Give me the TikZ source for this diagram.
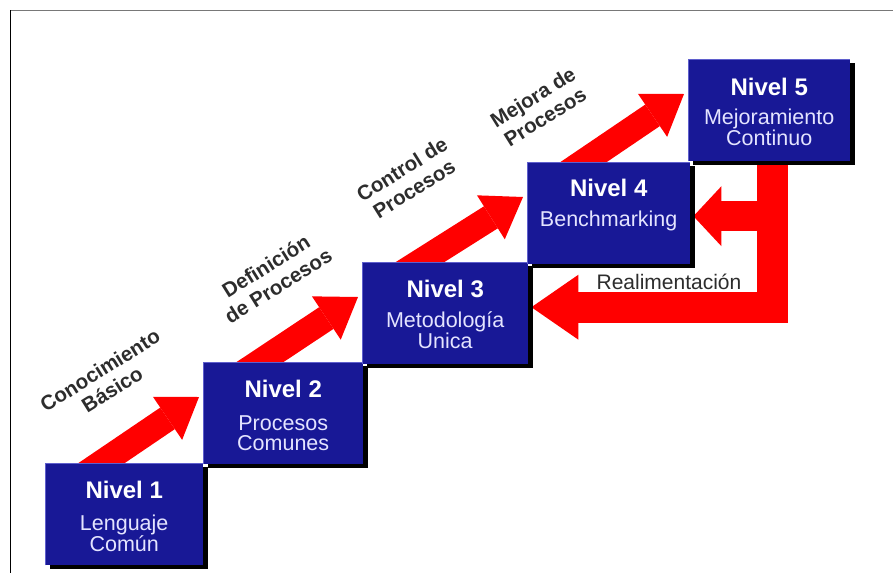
\documentclass[tikz,border=0pt]{standalone}
\usepackage{fontspec}
\setmainfont{Liberation Sans}
\usetikzlibrary{arrows.meta,calc,shadows}
\definecolor{levelblue}{RGB}{24,24,150}
\definecolor{edgeblue}{RGB}{95,95,205}
\definecolor{stepred}{RGB}{255,0,0}
\definecolor{captiongray}{RGB}{45,45,45}
\definecolor{sublilac}{RGB}{228,228,255}
\definecolor{framegray}{RGB}{120,120,120}
\begin{document}
\begin{tikzpicture}[x=1pt,y=-1pt,
  levelbox/.style={anchor=north west, inner sep=0pt, minimum height=102pt,
    fill=levelblue,
    drop shadow={shadow xshift=5pt,shadow yshift=-4pt,opacity=1,fill=black}},
  boxedge/.style={edgeblue, line width=1.2pt},
  levelname/.style={text=white, font=\bfseries\fontsize{24}{26}\selectfont, inner sep=0pt},
  leveltext/.style={text=sublilac, font=\fontsize{21.5}{20}\selectfont, align=center, inner sep=0pt},
  steparrow/.style={draw=stepred, line width=26pt,
    -{Triangle[length=38pt,width=52pt,line width=0pt]}},
  backarrow/.style={draw=stepred, line width=31pt, line join=miter,
    -{Triangle[length=47pt,width=65pt,line width=0pt]}},
  brancharrow/.style={draw=stepred, line width=30pt,
    -{Triangle[length=28pt,width=60pt,line width=0pt]}},
  stagecaption/.style={text=captiongray, font=\bfseries\fontsize{20.5}{23}\selectfont,
    align=center, rotate=32, inner sep=0pt},
  feedcaption/.style={text=captiongray, font=\fontsize{21}{24}\selectfont, inner sep=0pt}
]
% page and frame
\fill[white] (0,0) rectangle (893,573);
\useasboundingbox (0,0) rectangle (893,573);
\draw[framegray, line width=1.5pt] (10,10.5) -- (893,10.5);
\draw[black, line width=1.5pt] (10.5,10) -- (10.5,573);

% top-left corners of the five steps
\path (45,463) coordinate (p1) (203,362) coordinate (p2) (362,262) coordinate (p3)
      (527,162) coordinate (p4) (688,59) coordinate (p5);

% rising arrows between the steps (their tails hide under the boxes)
\foreach \a/\b in {p1/p2, p2/p3, p3/p4, p4/p5}
  \draw[steparrow] ($(\a)+(36,14)$) -- ($(\b)+(-4,35)$);

% step boxes
\node[levelbox, minimum width=158pt] (b1) at (p1) {};
\node[levelbox, minimum width=160pt] (b2) at (p2) {};
\node[levelbox, minimum width=166pt] (b3) at (p3) {};
\node[levelbox, minimum width=163pt] (b4) at (p4) {};
\node[levelbox, minimum width=162pt] (b5) at (p5) {};

% feedback arrows from level 5 back to levels 4 and 3
\coordinate (fbtop) at ($(b5.south)+(3,-4)$);
\coordinate (fbmid) at ($(b4.east)+(3,3)$);
\coordinate (fbend) at ($(b3.east)+(3,-6)$);
\draw[backarrow] (fbtop) |- (fbend);
\draw[brancharrow] (fbtop |- fbmid) -- (fbmid);

% boxes again, above the arrow ends, with a lighter top/left edge
\foreach \k/\w in {1/158,2/160,3/166,4/163,5/162}{
  \node[levelbox, minimum width=\w pt] at (p\k) {};
  \draw[boxedge] ($(b\k.south west)+(0.6,0)$) |- ($(b\k.north east)+(0,0.6)$);
}

% box texts
\node[levelname] (n1) at ($(b1.north)+(0,27)$) {Nivel 1};
\node[leveltext] (s1) at ($(b1.north)+(0,70)$) {Lenguaje\\Común};
\node[levelname] (n2) at ($(b2.north)+(0,27)$) {Nivel 2};
\node[leveltext] (s2) at ($(b2.north)+(0,71)$) {Procesos\\Comunes};
\node[levelname] (n3) at ($(b3.north)+(0,27)$) {Nivel 3};
\node[leveltext] (s3) at ($(b3.north)+(0,68)$) {Metodología\\Unica};
\node[levelname] (n4) at ($(b4.north)+(0,26)$) {Nivel 4};
\node[leveltext] (s4) at ($(b4.north)+(0,59)$) {Benchmarking};
\node[levelname] (n5) at ($(b5.north)+(0,28)$) {Nivel 5};
\node[leveltext] (s5) at ($(b5.north)+(0,68)$) {Mejoramiento\\Continuo};

% stage captions
\node[stagecaption] (c1) at (106,380) {Conocimiento\\Básico};
\node[stagecaption] (c2) at (272,276) {Definición\\de Procesos};
\node[stagecaption] (c3) at (408,179) {Control de\\Procesos};
\node[stagecaption] (c4) at (539,107) {Mejora de\\Procesos};
\node[feedcaption] (fb) at (669,282) {Realimentación};
\end{tikzpicture}
\end{document}
